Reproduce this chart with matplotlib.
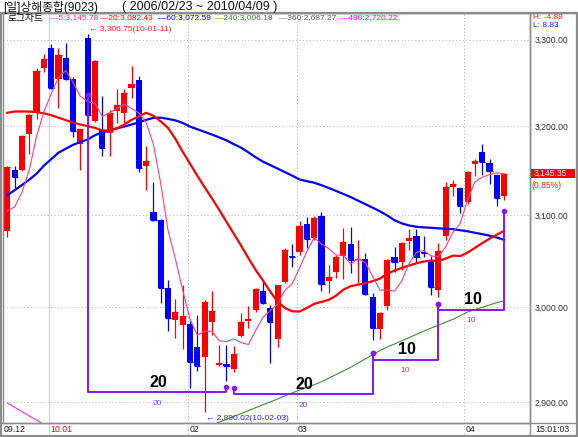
import matplotlib
matplotlib.use("Agg")
import matplotlib.pyplot as plt
from matplotlib.lines import Line2D
from matplotlib.patches import Rectangle
from matplotlib.ticker import FixedLocator, FuncFormatter, NullLocator

plt.rcParams["font.family"] = ["Liberation Sans", "Noto Sans CJK KR"]

W, H = 578, 437  # output size in px (dpi 100)

# daily candles 2009-12-24 .. 2010-04-09
OPEN = [3082, 3150, 3150, 3191, 3215, 3267, 3290, 3254, 3278, 3254,
        3179, 3302, 3206, 3195, 3192, 3217, 3215, 3244, 3253, 3155,
        3103, 3095, 3020, 2986, 2981, 2982, 2957, 2947, 2984, 2938,
        2939, 2934, 2969, 2985, 2997, 3017, 2999, 2966, 3027, 3055,
        3059, 3090, 3075, 3099, 3028, 3038, 3055, 3068, 3051, 3052,
        3011, 2976, 3001, 3054, 3048, 3071, 3077, 3059, 3051, 3018,
        3077, 3131, 3130, 3114, 3157, 3171, 3158, 3144, 3121]
HIGH = [3155, 3155, 3190, 3214, 3267, 3283, 3295, 3290, 3296, 3256,
        3197, 3306.75, 3276, 3234, 3218, 3242, 3242, 3269, 3257, 3177,
        3137, 3096, 3029, 3008, 3024, 2985, 2991, 3007, 3017, 2960,
        2960, 2958, 2993, 3001, 3020, 3028, 3002, 3024, 3064, 3068,
        3093, 3098, 3099, 3103, 3045, 3056, 3086, 3087, 3073, 3058,
        3015, 2995, 3052, 3065, 3070, 3084, 3084, 3077, 3055, 3069,
        3137, 3139, 3131, 3149, 3163, 3179, 3162, 3146, 3147]
LOW = [3076, 3130, 3149, 3168, 3208, 3262, 3243, 3221, 3253, 3188,
       3150, 3200, 3205, 3166, 3166, 3203, 3203, 3232, 3148, 3128,
       3093, 3004, 2974, 2967, 2955, 2914, 2932, 2890.02, 2970, 2937,
       2922, 2931, 2968, 2978, 2995, 3003, 2941, 2957, 3026, 3043,
       3056, 3064, 3073, 3017, 3015, 3031, 3030, 3037, 3026, 3013,
       2965, 2966, 2997, 3038, 3040, 3062, 3048, 3054, 3013, 3011,
       3073, 3121, 3102, 3112, 3143, 3144, 3134, 3110, 3117]
CLOSE = [3154, 3142, 3189, 3212, 3263, 3277, 3244, 3282, 3254, 3194,
         3196, 3213, 3275, 3175, 3215, 3224, 3238, 3248, 3152, 3160,
         3095, 3020, 2988, 2995, 2990, 2942, 2937, 3005, 2996, 2941,
         2937, 2950, 2984, 2987, 3019, 3004, 2984, 3023, 3062, 3054,
         3088, 3074, 3097, 3025, 3032, 3054, 3070, 3051, 3052, 3014,
         2978, 2993, 3051, 3048, 3069, 3075, 3054, 3058, 3021, 3060,
         3131, 3134, 3110, 3148, 3160, 3159, 3149, 3119, 3145.35]

# moving averages as drawn
MA5 = [3104.5, 3109, 3125, 3150, 3188, 3216, 3237, 3256, 3264, 3250,
       3234, 3228, 3226, 3211, 3215, 3220, 3225, 3220, 3215, 3204,
       3179, 3135, 3083, 3052, 3018, 2987, 2970, 2974, 2974, 2964,
       2963, 2966, 2962, 2960, 2975, 2989, 2996, 3003, 3018, 3025,
       3042, 3060, 3075, 3068, 3063, 3056, 3056, 3046, 3052, 3048,
       3033, 3018, 3018, 3017, 3028, 3047, 3059, 3061, 3055, 3054,
       3065, 3081, 3091, 3117, 3137, 3142, 3145, 3147, 3145.78]
MA20 = [3215.1, 3216.6, 3216.6, 3216.5, 3215.9, 3214.5, 3212.4, 3209.5, 3206.7, 3203.9,
        3201.7, 3199.8, 3197.8, 3194.9, 3194.9, 3197.2, 3201.7, 3207.0, 3211.0, 3215.1,
        3211.6, 3205.2, 3197.8, 3185.4, 3170.8, 3157.3, 3143.8, 3130.9, 3118.5, 3105.6,
        3092.4, 3079.3, 3066.3, 3052.7, 3039.7, 3028.3, 3016.3, 3005.4, 2998.9, 2995.3,
        2995.0, 2998.9, 3003.3, 3005.4, 3007.6, 3012.0, 3018.5, 3022.3, 3023.9, 3025.5,
        3027.7, 3030.4, 3035.9, 3039.1, 3042.1, 3044.6, 3047.0, 3048.9, 3050.0, 3049.5,
        3052.2, 3055.4, 3054.9, 3058.7, 3063.8, 3069.0, 3073.9, 3078.3, 3082.43]
MA60 = [3121.9, 3127.5, 3133.3, 3139.3, 3146.0, 3155.0, 3162.3, 3169.7, 3174.1, 3178.6,
        3181.7, 3184.7, 3189.5, 3192.6, 3195.1, 3197.3, 3199.3, 3201.7, 3204.1, 3207.0,
        3209.3, 3209.5, 3208.1, 3206.4, 3203.5, 3199.3, 3196.3, 3193.3, 3190.3, 3187.0,
        3183.6, 3179.3, 3175.3, 3170.0, 3164.5, 3159.5, 3155.6, 3151.7, 3147.7, 3143.8,
        3139.5, 3137.6, 3135.9, 3133.1, 3130.0, 3126.7, 3123.3, 3119.9, 3115.9, 3112.0,
        3108.1, 3104.1, 3099.5, 3094.2, 3090.7, 3088.4, 3087.0, 3086.3, 3085.9, 3085.3,
        3084.8, 3084.3, 3083.2, 3082.0, 3080.4, 3078.9, 3077.2, 3075.2, 3072.59]
# the 240-day line only enters the view from the 28th candle on
MA240_START = 27
MA240 = [2872.9, 2876.0, 2879.1, 2882.1, 2885.1, 2888.0, 2891.0, 2894.1, 2897.1, 2900.1,
         2903.1, 2906.3, 2909.4, 2912.3, 2915.1, 2917.9, 2921.0, 2924.7, 2928.5, 2932.3,
         2936.1, 2940.5, 2944.8, 2949.2, 2953.7, 2957.4, 2960.6, 2964.0, 2967.4, 2970.7,
         2974.2, 2977.4, 2980.5, 2983.7, 2986.8, 2990.6, 2994.5, 2997.2, 2999.6, 3002.1,
         3004.6, 3006.18]
# the 480-day line is only visible over the first few candles
MA480 = [2899, 2894.5, 2890, 2885.6, 2881.2, 2876.8, 2872.4]

MA_PERIODS = ["5", "20", "60", "240", "360", "480"]
MA_LAST = [3145.78, 3082.43, 3072.59, 3006.18, 2687.27, 2720.22]

# time-cycle counts: (start idx, end idx, start level, base level, end level, count)
CYCLES = [
    (11, 30, 3236, 2909.8, 2916, 20),
    (31, 50, 2914.4, 2908, 2951, 20),
    (50, 59, 2951, 2944.2, 3003.3, 10),
    (59, 68, 3003.3, 2996.8, 3104.5, 10),
]

Y_TICKS = [2900, 3000, 3100, 3200, 3300]
MONTH_POS = [5.7, 24.7, 39.6, 62.5]
MONTH_LABELS = ["10.01", "02", "03", "04"]
HIGH_DATE, LOW_DATE = "10-01-11", "10-02-03"
CHANGE_PCT = 0.85
H_DIFF, L_DIFF = -4.88, 8.83

RED, BLUE = "#ff0000", "#0000ff"
PINK, GREEN, MAGENTA = "#ff3d8b", "#3d8f3d", "#ff2bff"
PURPLE = "#8a14ff"
MA_COLORS = ["#ff2d86", "#ff0000", "#0000ff", "#2f8a2f", "#606060", "#ff00ff"]
MA_X = [50, 100, 158, 215, 279, 340]
FRAME = "#8c8c8c"


def fx(x):
    return x / W


def fy(y):
    return 1 - y / H


fig = plt.figure(figsize=(W / 100, H / 100), dpi=100)
ax = fig.add_axes([fx(3), fy(423), (530 - 3) / W, (423 - 13) / H])

n = len(CLOSE)
idx = list(range(n))

# candles: red = up, blue = down
for i in idx:
    col = RED if CLOSE[i] >= OPEN[i] else BLUE
    lo, hi = sorted((OPEN[i], CLOSE[i]))
    ax.vlines(i, LOW[i], HIGH[i], color=col, lw=0.9, zorder=2)
    ax.bar(i, hi - lo, bottom=lo, width=0.84, color=col, lw=0, zorder=2)
    ax.hlines(CLOSE[i], i - 0.42, i + 0.42, color=col, lw=0.9, zorder=2)

ax.plot(range(len(MA480)), MA480, color=MAGENTA, lw=0.8, zorder=3)
ax.plot(range(MA240_START, MA240_START + len(MA240)), MA240, color=GREEN, lw=0.8, zorder=3)
ax.plot(idx, MA60, color=BLUE, lw=1.6, zorder=3)
ax.plot(idx, MA20, color=RED, lw=1.6, zorder=3)
ax.plot(idx, MA5, color=PINK, lw=0.8, zorder=4)

# cycle count brackets
for s, e, p0, base, p1, cnt in CYCLES:
    ax.plot([s, s, e, e], [p0, base, base, p1], color=PURPLE, lw=1.4, zorder=5)
    ax.plot([s, e], [p0, p1], "o", ms=3, color=PURPLE, zorder=5)
    mid = (s + e) / 2
    ax.annotate(str(cnt), xy=(mid + 0.2, base), xytext=(0, 10), textcoords="offset pixels",
                ha="center", va="center", fontsize=11.5, fontweight="bold", color="black", zorder=6)
    ax.annotate(str(cnt), xy=(mid, base), xytext=(0, -11), textcoords="offset pixels",
                ha="center", va="center", fontsize=6, color="#9a3dff", zorder=6,
                annotation_clip=False)

# period high / low labels
hi_i = HIGH.index(max(HIGH))
lo_i = LOW.index(min(LOW))
ax.annotate(f"\u2190 {HIGH[hi_i]:,.2f}({HIGH_DATE})", xy=(hi_i, HIGH[hi_i]), xytext=(1.5, 4),
            textcoords="offset pixels", ha="left", va="center", fontsize=6, color="#ff2020", zorder=6)
ax.annotate(f"\u2190 {LOW[lo_i]:,.2f}({LOW_DATE})", xy=(lo_i, LOW[lo_i]), xytext=(1.5, -6.5),
            textcoords="offset pixels", ha="left", va="center", fontsize=6, color="#2828ff", zorder=6)

ax.set_yscale("log")
ax.set_ylim(2878.3, 3331.6)
ax.set_xlim(-0.59, 71.54)
ax.yaxis.set_major_locator(FixedLocator(Y_TICKS))
ax.yaxis.set_minor_locator(NullLocator())
ax.yaxis.set_major_formatter(FuncFormatter(lambda v, _: f"{v:,.2f}"))
ax.yaxis.tick_right()
ax.tick_params(axis="y", which="both", length=0, pad=3.6, labelsize=6.2, labelcolor="#333333")
ax.set_xticks([])
ax.grid(axis="y", color="#b4b4b4", lw=0.7, ls=(0, (1, 2.5)))
for sp in ax.spines.values():
    sp.set_color(FRAME)
    sp.set_linewidth(1)

# month separators run down through the date strip
xt = ax.get_xaxis_transform()
for k, lab in zip(MONTH_POS, MONTH_LABELS):
    if lab.startswith("10."):
        ax.plot([k, k], [-14 / 410, 1], transform=xt, clip_on=False, color="#cfcfcf", lw=0.8, zorder=1)
    else:
        ax.plot([k, k], [-14 / 410, 1], transform=xt, clip_on=False, color="#a8a8a8", lw=0.7,
                ls=(0, (1, 2.5)), zorder=1)
    ax.text(k + 0.2, -7 / 410, lab, transform=xt, ha="left", va="center", fontsize=6.3,
            color=RED if lab.startswith("10.") else "#222222")
fig.text(fx(4), fy(430), "09.12", ha="left", va="center", fontsize=6.3, color="#222222")
fig.text(fx(535), fy(430), "15:01:03", ha="left", va="center", fontsize=6.3, color="#222222")

# header
fig.text(fx(3), fy(7), "[일]상해종합(9023)", ha="left", va="center", fontsize=8.5, color="#111111")
fig.text(fx(122), fy(7), "( 2006/02/23 ~ 2010/04/09 )", ha="left", va="center", fontsize=9,
         color="#111111")
fig.text(fx(8), fy(18), "로그차트", ha="left", va="center", fontsize=7, color="#111111")
for per, val, col, x in zip(MA_PERIODS, MA_LAST, MA_COLORS, MA_X):
    fig.text(fx(x), fy(18), f"\u2014{per}:{val:,.2f}", ha="left", va="center", fontsize=6, color=col)

# right panel
fig.text(fx(533), fy(17.5), f"H: {H_DIFF:.2f}", ha="left", va="center", fontsize=6, color="#ff2020")
fig.text(fx(533), fy(25.5), f"L: {L_DIFF:.2f}", ha="left", va="center", fontsize=6, color="#2020ff")
fig.patches.append(Rectangle((fx(530), fy(178)), 45 / W, 9.5 / H, transform=fig.transFigure,
                             facecolor="#ff0000", edgecolor="none"))
fig.text(fx(534), fy(173.3), f"{CLOSE[-1]:,.2f}", ha="left", va="center", fontsize=6.2, color="white")
fig.text(fx(532), fy(186), f"({CHANGE_PCT:.2f}%)", ha="left", va="center", fontsize=6.2, color="#ff2020")

# frame lines
for xs, ys in [([0, 577], [423, 423]), ([530, 530], [13, 436]), ([0, 578], [13, 13])]:
    fig.add_artist(Line2D([fx(v) for v in xs], [fy(v) for v in ys], transform=fig.transFigure,
                          color=FRAME, lw=1))
fig.patches.append(Rectangle((fx(1), fy(436)), 576 / W, 423 / H, transform=fig.transFigure,
                             facecolor="none", edgecolor=FRAME, lw=1.6))

fig.savefig("out.png", dpi=100, facecolor="white")
